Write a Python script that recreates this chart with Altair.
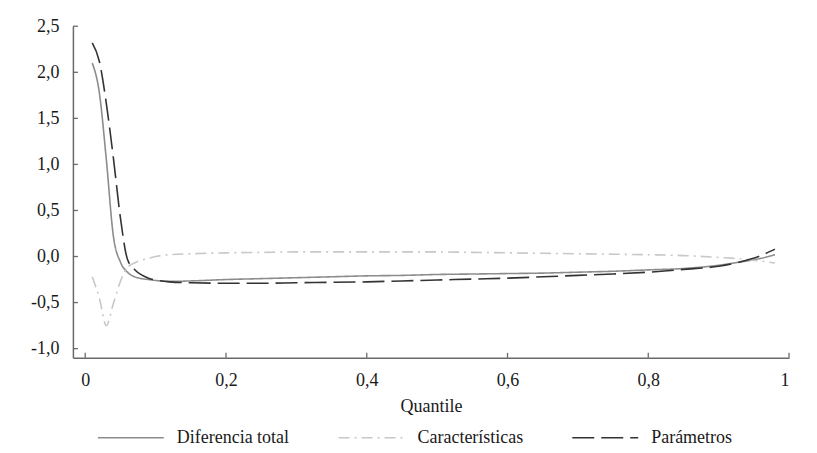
import altair as alt
import pandas as pd

quantiles = [0.01, 0.02, 0.03, 0.04, 0.05, 0.06, 0.07, 0.08, 0.09, 0.10,
             0.12, 0.15, 0.20, 0.25, 0.30, 0.35, 0.40, 0.45, 0.50, 0.55,
             0.60, 0.65, 0.70, 0.75, 0.80, 0.85, 0.90, 0.93, 0.96, 0.98]

diferencia_total = [2.10, 1.78, 1.05, 0.22, -0.06, -0.17, -0.22, -0.24, -0.25, -0.26,
                    -0.27, -0.265, -0.25, -0.24, -0.23, -0.22, -0.21, -0.205, -0.195, -0.19,
                    -0.185, -0.18, -0.17, -0.16, -0.145, -0.13, -0.095, -0.06, -0.02, 0.02]

caracteristicas = [-0.22, -0.45, -0.75, -0.51, -0.27, -0.12, -0.07, -0.04, -0.02, 0.00,
                   0.02, 0.03, 0.04, 0.045, 0.05, 0.05, 0.05, 0.05, 0.05, 0.045,
                   0.04, 0.035, 0.03, 0.025, 0.02, 0.01, -0.01, -0.025, -0.05, -0.07]

parametros = [2.32, 2.12, 1.66, 1.07, 0.42, -0.03, -0.14, -0.20, -0.235, -0.255,
              -0.275, -0.285, -0.29, -0.29, -0.285, -0.28, -0.275, -0.265, -0.255, -0.245,
              -0.235, -0.22, -0.205, -0.19, -0.17, -0.14, -0.105, -0.06, 0.01, 0.08]

series_names = ["Diferencia total", "Características", "Parámetros"]
series_colors = ["#8c8c8c", "#c8c8c8", "#333333"]
series_dashes = [[1, 0], [11, 5, 2, 5], [22, 7]]
series_widths = [1.6, 1.6, 2.6]

x_ticks = [0, 0.2, 0.4, 0.6, 0.8, 1.0]
y_ticks = [-1.0, -0.5, 0.0, 0.5, 1.0, 1.5, 2.0, 2.5]

rows = []
for name, vals in zip(series_names, [diferencia_total, caracteristicas, parametros]):
    for q, v in zip(quantiles, vals):
        rows.append({"quantile": q, "value": v, "serie": name})
df = pd.DataFrame(rows)

W, H = 717, 332
FONT = "Times New Roman, Liberation Serif, serif"

x_scale = alt.Scale(domain=[-0.0175, 1.0], nice=False, zero=False)
y_scale = alt.Scale(domain=[-1.1, 2.5], nice=False, zero=False)

legend_kw = dict(orient="none", legendX=24, legendY=378, direction="horizontal",
                 title=None, symbolSize=4356, symbolStrokeWidth=2,
                 labelFont=FONT, labelFontSize=18, labelColor="#1a1a1a",
                 labelOffset=12, columnPadding=45)

lines = alt.Chart(df).mark_line(interpolate="monotone").encode(
    x=alt.X("quantile:Q", scale=x_scale, title="Quantile",
            axis=alt.Axis(values=x_ticks, ticks=False, grid=False,
                          labelExpr="replace(format(datum.value, '~g'), '.', ',')",
                          labelPadding=14, titlePadding=8)),
    y=alt.Y("value:Q", scale=y_scale, title=None,
            axis=alt.Axis(values=y_ticks, ticks=False, grid=False,
                          labelExpr="replace(replace(format(datum.value, '.1f'), '.', ','), '\u2212', '-')",
                          labelPadding=14)),
    color=alt.Color("serie:N", scale=alt.Scale(domain=series_names, range=series_colors),
                    legend=alt.Legend(**legend_kw)),
    strokeDash=alt.StrokeDash("serie:N", scale=alt.Scale(domain=series_names, range=series_dashes),
                              legend=alt.Legend(**legend_kw)),
    strokeWidth=alt.StrokeWidth("serie:N", scale=alt.Scale(domain=series_names, range=series_widths),
                                legend=None),
)

xt = alt.Chart(pd.DataFrame({"quantile": x_ticks})).mark_rule(color="#6a6a6a", strokeWidth=1.3).encode(
    x=alt.X("quantile:Q", scale=x_scale),
    y=alt.value(H), y2=alt.value(H - 5),
)
yt = alt.Chart(pd.DataFrame({"value": y_ticks})).mark_rule(color="#6a6a6a", strokeWidth=1.3).encode(
    y=alt.Y("value:Q", scale=y_scale),
    x=alt.value(0), x2=alt.value(5),
)

chart = alt.layer(lines, xt, yt).properties(
    width=W, height=H,
    autosize=alt.AutoSizeParams(type="none"),
    padding={"left": 65, "top": 18, "right": 20, "bottom": 92},
    background="white",
).configure_view(stroke=None).configure_axis(
    domainColor="#6a6a6a", domainWidth=1.5,
    labelFont=FONT, labelFontSize=18, labelColor="#1a1a1a",
    titleFont=FONT, titleFontSize=18, titleColor="#1a1a1a", titleFontWeight="normal",
)

chart.save("out.html", embed_options={"renderer": "svg", "actions": False})
